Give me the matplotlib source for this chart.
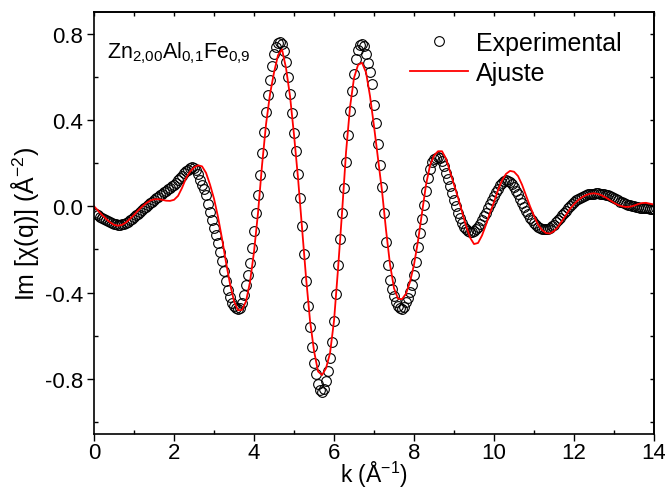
import matplotlib
matplotlib.use("Agg")
import matplotlib.pyplot as plt
import numpy as np

plt.rcParams['font.family'] = ['Liberation Sans', 'DejaVu Sans']
plt.rcParams['mathtext.fontset'] = 'custom'
plt.rcParams['mathtext.rm'] = 'Liberation Sans'
plt.rcParams['mathtext.it'] = 'Liberation Sans:italic'
plt.rcParams['mathtext.bf'] = 'Liberation Sans:bold'

# Experimental data, k from 0 to 14 in steps of 0.05
k_exp_start, k_exp_step = 0.0, 0.05
exp_values = [
    -0.030, -0.036, -0.042, -0.048, -0.054, -0.060, -0.065, -0.070, -0.075, -0.079,
    -0.082, -0.084, -0.085, -0.085, -0.084, -0.082, -0.078, -0.072, -0.065, -0.058,
    -0.050, -0.042, -0.034, -0.026, -0.018, -0.010, -0.002, 0.006, 0.014, 0.022,
    0.030, 0.037, 0.044, 0.051, 0.058, 0.065, 0.072, 0.079, 0.086, 0.093,
    0.100, 0.110, 0.120, 0.130, 0.142, 0.152, 0.162, 0.170, 0.176, 0.180,
    0.178, 0.168, 0.148, 0.122, 0.100, 0.078, 0.050, 0.012, -0.028, -0.064,
    -0.100, -0.135, -0.172, -0.212, -0.255, -0.300, -0.345, -0.388, -0.422, -0.446,
    -0.462, -0.471, -0.475, -0.470, -0.450, -0.410, -0.365, -0.318, -0.262, -0.195,
    -0.115, -0.030, 0.050, 0.145, 0.245, 0.345, 0.435, 0.515, 0.585, 0.650,
    0.705, 0.740, 0.757, 0.760, 0.750, 0.720, 0.670, 0.600, 0.520, 0.430,
    0.340, 0.255, 0.150, 0.040, -0.090, -0.220, -0.345, -0.460, -0.560, -0.650,
    -0.725, -0.778, -0.822, -0.850, -0.860, -0.845, -0.808, -0.762, -0.705, -0.630,
    -0.530, -0.405, -0.270, -0.150, -0.030, 0.085, 0.205, 0.330, 0.440, 0.535,
    0.615, 0.680, 0.722, 0.745, 0.750, 0.743, 0.705, 0.665, 0.620, 0.565,
    0.470, 0.385, 0.290, 0.190, 0.090, -0.030, -0.165, -0.270, -0.340, -0.385,
    -0.415, -0.445, -0.462, -0.471, -0.475, -0.465, -0.445, -0.425, -0.398, -0.365,
    -0.319, -0.257, -0.190, -0.125, -0.060, 0.005, 0.070, 0.130, 0.175, 0.205,
    0.220, 0.225, 0.226, 0.222, 0.210, 0.185, 0.155, 0.125, 0.095, 0.062,
    0.030, 0.000, -0.030, -0.056, -0.078, -0.095, -0.107, -0.114, -0.118, -0.118,
    -0.114, -0.105, -0.095, -0.080, -0.062, -0.045, -0.030, -0.010, 0.010, 0.030,
    0.048, 0.065, 0.082, 0.097, 0.108, 0.116, 0.120, 0.118, 0.113, 0.102,
    0.090, 0.073, 0.055, 0.036, 0.017, -0.002, -0.020, -0.037, -0.052, -0.065,
    -0.077, -0.087, -0.095, -0.101, -0.104, -0.106, -0.106, -0.104, -0.100, -0.093,
    -0.085, -0.075, -0.064, -0.053, -0.042, -0.031, -0.020, -0.009, 0.002, 0.012,
    0.020, 0.028, 0.034, 0.040, 0.045, 0.049, 0.052, 0.055, 0.057, 0.058,
    0.059, 0.060, 0.060, 0.059, 0.058, 0.056, 0.053, 0.050, 0.046, 0.042,
    0.037, 0.032, 0.027, 0.022, 0.018, 0.014, 0.010, 0.007, 0.004, 0.001,
    -0.001, -0.003, -0.005, -0.006, -0.007, -0.008, -0.009, -0.010, -0.011, -0.012,
    -0.013,
]

# Fit (Ajuste), k from 0 to 14 in steps of 0.1
k_fit_start, k_fit_step = 0.0, 0.1
fit_values = [
    0.000, -0.020, -0.040, -0.058, -0.074, -0.086, -0.090, -0.086, -0.075, -0.058,
    -0.040, -0.020, -0.002, 0.014, 0.026, 0.032, 0.033, 0.030, 0.026, 0.025,
    0.030, 0.048, 0.085, 0.130, 0.160, 0.180, 0.190, 0.185, 0.155, 0.100,
    0.035, -0.050, -0.150, -0.260, -0.360, -0.440, -0.482, -0.480, -0.440, -0.350,
    -0.210, -0.030, 0.190, 0.380, 0.520, 0.620, 0.700, 0.727, 0.640, 0.510,
    0.330, 0.130, -0.100, -0.330, -0.530, -0.670, -0.765, -0.782, -0.750, -0.680,
    -0.530, -0.290, -0.030, 0.250, 0.460, 0.595, 0.655, 0.665, 0.620, 0.510,
    0.370, 0.220, 0.070, -0.110, -0.270, -0.380, -0.428, -0.430, -0.405, -0.350,
    -0.270, -0.160, -0.030, 0.100, 0.190, 0.235, 0.255, 0.255, 0.220, 0.160,
    0.100, 0.040, -0.025, -0.090, -0.145, -0.175, -0.170, -0.135, -0.085, -0.030,
    0.020, 0.075, 0.120, 0.150, 0.164, 0.160, 0.140, 0.100, 0.050, 0.000,
    -0.045, -0.085, -0.110, -0.124, -0.126, -0.115, -0.095, -0.068, -0.040, -0.012,
    0.010, 0.028, 0.042, 0.052, 0.058, 0.060, 0.057, 0.050, 0.040, 0.028,
    0.016, 0.006, 0.000, -0.003, -0.002, 0.003, 0.010, 0.015, 0.016, 0.012,
    0.008,
]

x_ticks = [0, 2, 4, 6, 8, 10, 12, 14]
x_minor = [1, 3, 5, 7, 9, 11, 13]
y_ticks = [-0.8, -0.4, 0.0, 0.4, 0.8]
y_minor = [-1.0, -0.6, -0.2, 0.2, 0.6]
y_tick_labels = ['-0.8', '-0.4', '0.0', '0.4', '0.8']

k_exp = k_exp_start + k_exp_step * np.arange(len(exp_values))
k_fit = k_fit_start + k_fit_step * np.arange(len(fit_values))

fig = plt.figure(figsize=(6.65, 4.89), dpi=100)
ax = fig.add_axes([0.1414, 0.1104, 0.8421, 0.8630])

ax.plot(k_exp, exp_values, linestyle='none', marker='o', markersize=7,
        markerfacecolor='none', markeredgecolor='black', markeredgewidth=0.8,
        label='Experimental')
ax.plot(k_fit, fit_values, color='#ff0000', linewidth=1.3, label='Ajuste')

ax.set_xlim(0, 14)
ax.set_ylim(-1.055, 0.9)
ax.set_xticks(x_ticks)
ax.set_xticks(x_minor, minor=True)
ax.set_yticks(y_ticks)
ax.set_yticklabels(y_tick_labels)
ax.set_yticks(y_minor, minor=True)

ax.tick_params(which='major', direction='out', length=5, width=1.0,
               labelsize=16, pad=3, top=False, right=False)
ax.tick_params(axis='x', which='major', pad=1)
ax.tick_params(which='minor', direction='in', length=3, width=1.0,
               top=False, right=False)
for sp in ax.spines.values():
    sp.set_linewidth(1.2)

# mirrored inward ticks on top and right
secx = ax.secondary_xaxis('top')
secx.set_xticks(x_ticks)
secx.set_xticks(x_minor, minor=True)
secx.tick_params(which='both', direction='in', length=3, width=1.0,
                 labeltop=False)
secy = ax.secondary_yaxis('right')
secy.set_yticks(y_ticks)
secy.set_yticks(y_minor, minor=True)
secy.tick_params(which='both', direction='in', length=3, width=1.0,
                 labelright=False)
secx.spines['top'].set_linewidth(1.2)
secy.spines['right'].set_linewidth(1.2)

ax.set_xlabel(r'k (Å$^{-1}$)', fontsize=16.5, labelpad=-3)
ax.set_ylabel(r'Im [χ(q)] (Å$^{-2}$)', fontsize=18, labelpad=3)

ax.text(0.023, 0.935, r'Zn$_{\mathrm{2{,}00}}$Al$_{\mathrm{0{,}1}}$Fe$_{\mathrm{0{,}9}}$',
        transform=ax.transAxes, fontsize=15.5, va='top', ha='left')

leg = ax.legend(loc='upper left', frameon=False, fontsize=18,
                bbox_to_anchor=(0.564, 0.955), handlelength=2.32,
                handletextpad=0.32, borderaxespad=0.0, borderpad=0.0,
                labelspacing=0.25)

fig.savefig('out.png', dpi=100)
